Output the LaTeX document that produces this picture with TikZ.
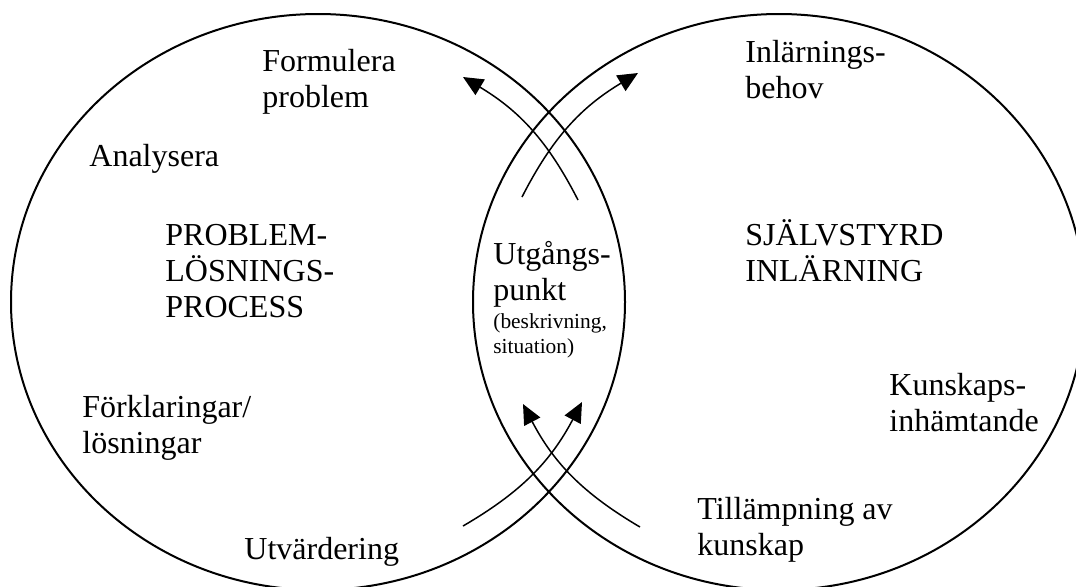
\documentclass[tikz,border=0pt]{standalone}
\usepackage{fontspec}
\setmainfont{Liberation Serif}
\usetikzlibrary{arrows.meta, positioning}
\newcommand{\bigtxt}{\fontsize{16}{18}\selectfont}
\newcommand{\smalltxt}{\fontsize{10.7}{12.5}\selectfont}
\tikzset{
    oval/.style={line width=1pt},
    flow/.style={line width=0.75pt, -{Triangle[length=10pt, width=9pt]}},
    lbl/.style={anchor=base west, align=left, inner sep=0pt, font=\bigtxt}
}
\begin{document}
\begin{tikzpicture}[x=0.5pt, y=0.5pt]
    \useasboundingbox (0,0) rectangle (1076,-586);
    % the two circles
    \draw[oval] (318,-302) ellipse [x radius=307, y radius=288];
    \draw[oval] (779,-302) ellipse [x radius=306, y radius=288];
    % arrow ends
    \coordinate (a1) at (578,-200);
    \coordinate (a2) at (463,-77);
    \coordinate (b1) at (522,-197);
    \coordinate (b2) at (638,-73);
    \coordinate (c1) at (463,-526);
    \coordinate (c2) at (582,-402);
    \coordinate (d1) at (640,-527);
    \coordinate (d2) at (523,-404);
    \draw[flow] (a1) to [bend right=16] (a2);
    \draw[flow] (b1) to [bend left=16] (b2);
    \draw[flow] (c1) to [bend right=16] (c2);
    \draw[flow] (d1) to [bend left=16] (d2);
    % texts (placed at the baseline of their last line)
    \node[lbl] (formulera) at (262,-107) {Formulera\\problem};
    \node[lbl] (analysera) at (89,-166) {Analysera};
    \node[lbl] (plp) at (165,-317) {PROBLEM-\\LÖSNINGS-\\PROCESS};
    \node[lbl] (forklaring) at (82,-453) {Förklaringar/\\lösningar};
    \node[lbl] (utvardering) at (244,-559) {Utvärdering};
    \node[lbl] (behov) at (745,-98) {Inlärnings-\\behov};
    \node[lbl] (sjalvstyrd) at (745,-281) {SJÄLVSTYRD\\INLÄRNING};
    \node[lbl] (utgang) at (493,-300) {Utgångs-\\punkt};
    \node[lbl, font=\smalltxt] (beskr) at (493,-353) {(beskrivning,\\situation)};
    \node[lbl] (kunskaps) at (889,-431) {Kunskaps-\\inhämtande};
    \node[lbl] (tillampning) at (697,-555) {Tillämpning av\\kunskap};
\end{tikzpicture}
\end{document}
